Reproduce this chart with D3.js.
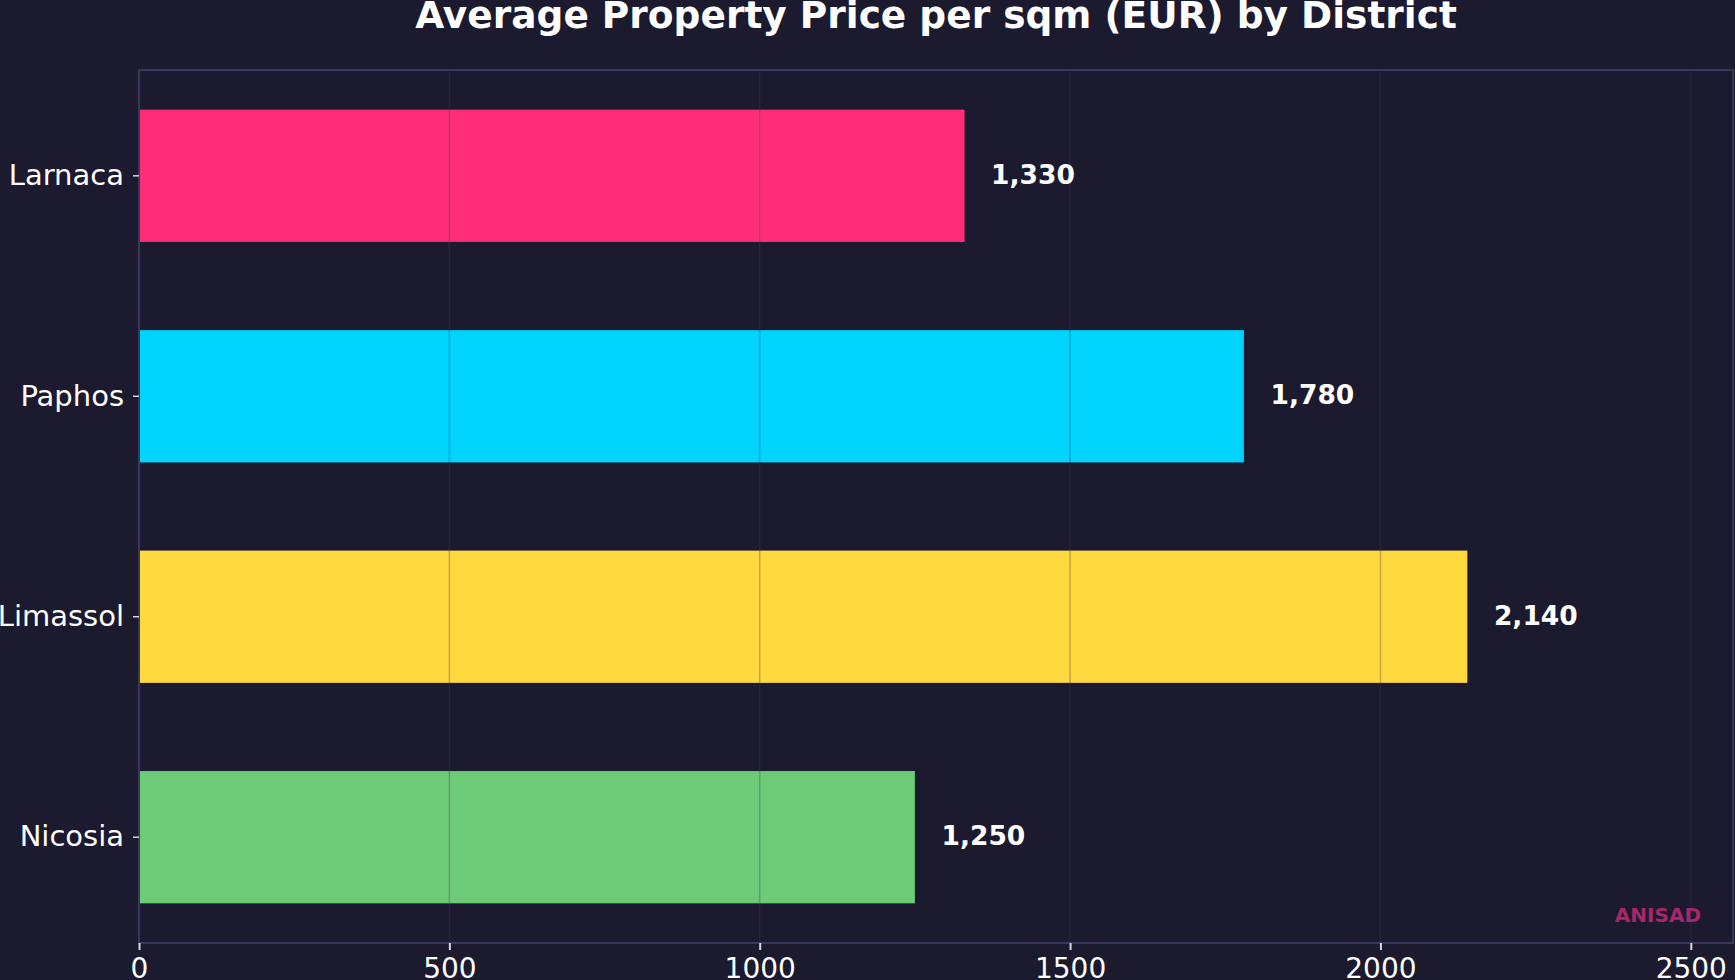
<!DOCTYPE html>
<html>
<head>
<meta charset="utf-8">
<script src="https://cdn.jsdelivr.net/npm/d3@7"></script>
<style>
  html, body { margin: 0; padding: 0; background: #1c1a2e; }
  svg { display: block; }
  svg text { font-family: "DejaVu Sans", sans-serif; }
</style>
</head>
<body>
<svg width="1735" height="980"></svg>
<script>
var districts = ["Larnaca", "Paphos", "Limassol", "Nicosia"];
var prices = [1330, 1780, 2140, 1250];
var colors = ["#ff2d78", "#00d4ff", "#ffd93d", "#6bcb77"];
var xTicks = [0, 500, 1000, 1500, 2000, 2500];
var title = "Average Property Price per sqm (EUR) by District";
var watermark = "ANISAD";

var svg = d3.select("svg");
var width = +svg.attr("width");
var height = +svg.attr("height");

var plot = {left: 139, right: 1733, top: 70, bottom: 943};

var data = districts.map(function(d, i) {
    return {name: d, value: prices[i], color: colors[i]};
});

var xMax = d3.max(prices) * 1.2;

var x = d3.scaleLinear()
    .domain([0, xMax])
    .range([plot.left, plot.right]);

var y = d3.scaleBand()
    .domain(districts)
    .range([plot.top, plot.bottom])
    .paddingInner(0.4)
    .paddingOuter(0.18);

svg.append("rect")
    .attr("width", width)
    .attr("height", height)
    .attr("fill", "#1c1a2e");

// BARS
svg.selectAll(".bar")
    .data(data)
    .enter()
    .append("rect")
    .attr("class", "bar")
    .attr("x", x(0))
    .attr("y", function(d) { return y(d.name); })
    .attr("width", function(d) { return x(d.value) - x(0); })
    .attr("height", y.bandwidth())
    .attr("fill", function(d) { return d.color; });

// GRID (drawn over bars)
svg.append("g")
    .selectAll("line")
    .data(xTicks.filter(function(t) { return t > 0; }))
    .enter()
    .append("line")
    .attr("x1", function(d) { return x(d); })
    .attr("x2", function(d) { return x(d); })
    .attr("y1", plot.top)
    .attr("y2", plot.bottom)
    .attr("stroke", "#3c3a5a")
    .attr("stroke-opacity", 0.3)
    .attr("stroke-width", 1.5);

// FRAME
svg.append("rect")
    .attr("x", plot.left)
    .attr("y", plot.top)
    .attr("width", plot.right - plot.left)
    .attr("height", plot.bottom - plot.top)
    .attr("fill", "none")
    .attr("stroke", "#3a3858")
    .attr("stroke-width", 2);

// X AXIS
var xAxis = d3.axisBottom(x)
    .tickValues(xTicks)
    .tickSize(7)
    .tickPadding(8)
    .tickFormat(d3.format("d"));

var gx = svg.append("g")
    .attr("transform", "translate(0," + plot.bottom + ")")
    .call(xAxis)
    .attr("font-family", null);
gx.select(".domain").remove();
gx.selectAll("line").attr("stroke", "#d8d8e0").attr("stroke-width", 2);
gx.selectAll("text")
    .attr("fill", "#ffffff")
    .style("font-size", "28px");

// Y AXIS
var yAxis = d3.axisLeft(y)
    .tickSize(6)
    .tickPadding(9);

var gy = svg.append("g")
    .attr("transform", "translate(" + plot.left + ",0)")
    .call(yAxis)
    .attr("font-family", null);
gy.select(".domain").remove();
gy.selectAll("line").attr("stroke", "#d8d8e0").attr("stroke-width", 1.5);
gy.selectAll("text")
    .attr("fill", "#ffffff")
    .style("font-size", "29px");

// VALUE LABELS
svg.selectAll(".value")
    .data(data)
    .enter()
    .append("text")
    .attr("class", "value")
    .attr("x", function(d) { return x(d.value + d3.max(prices) * 0.02); })
    .attr("y", function(d) { return y(d.name) + y.bandwidth() / 2; })
    .attr("dy", "0.3em")
    .attr("fill", "#ffffff")
    .style("font-size", "26.5px")
    .style("font-weight", "bold")
    .text(function(d) { return d3.format(",")(d.value); });

// TITLE
svg.append("text")
    .attr("x", (plot.left + plot.right) / 2)
    .attr("y", 28)
    .attr("text-anchor", "middle")
    .attr("fill", "#ffffff")
    .style("font-size", "37.5px")
    .style("font-weight", "bold")
    .text(title);

// WATERMARK
svg.append("text")
    .attr("x", 1701)
    .attr("y", 922)
    .attr("text-anchor", "end")
    .attr("fill", "#a8266a")
    .style("font-size", "20px")
    .style("font-weight", "bold")
    .text(watermark);
</script>
</body>
</html>
